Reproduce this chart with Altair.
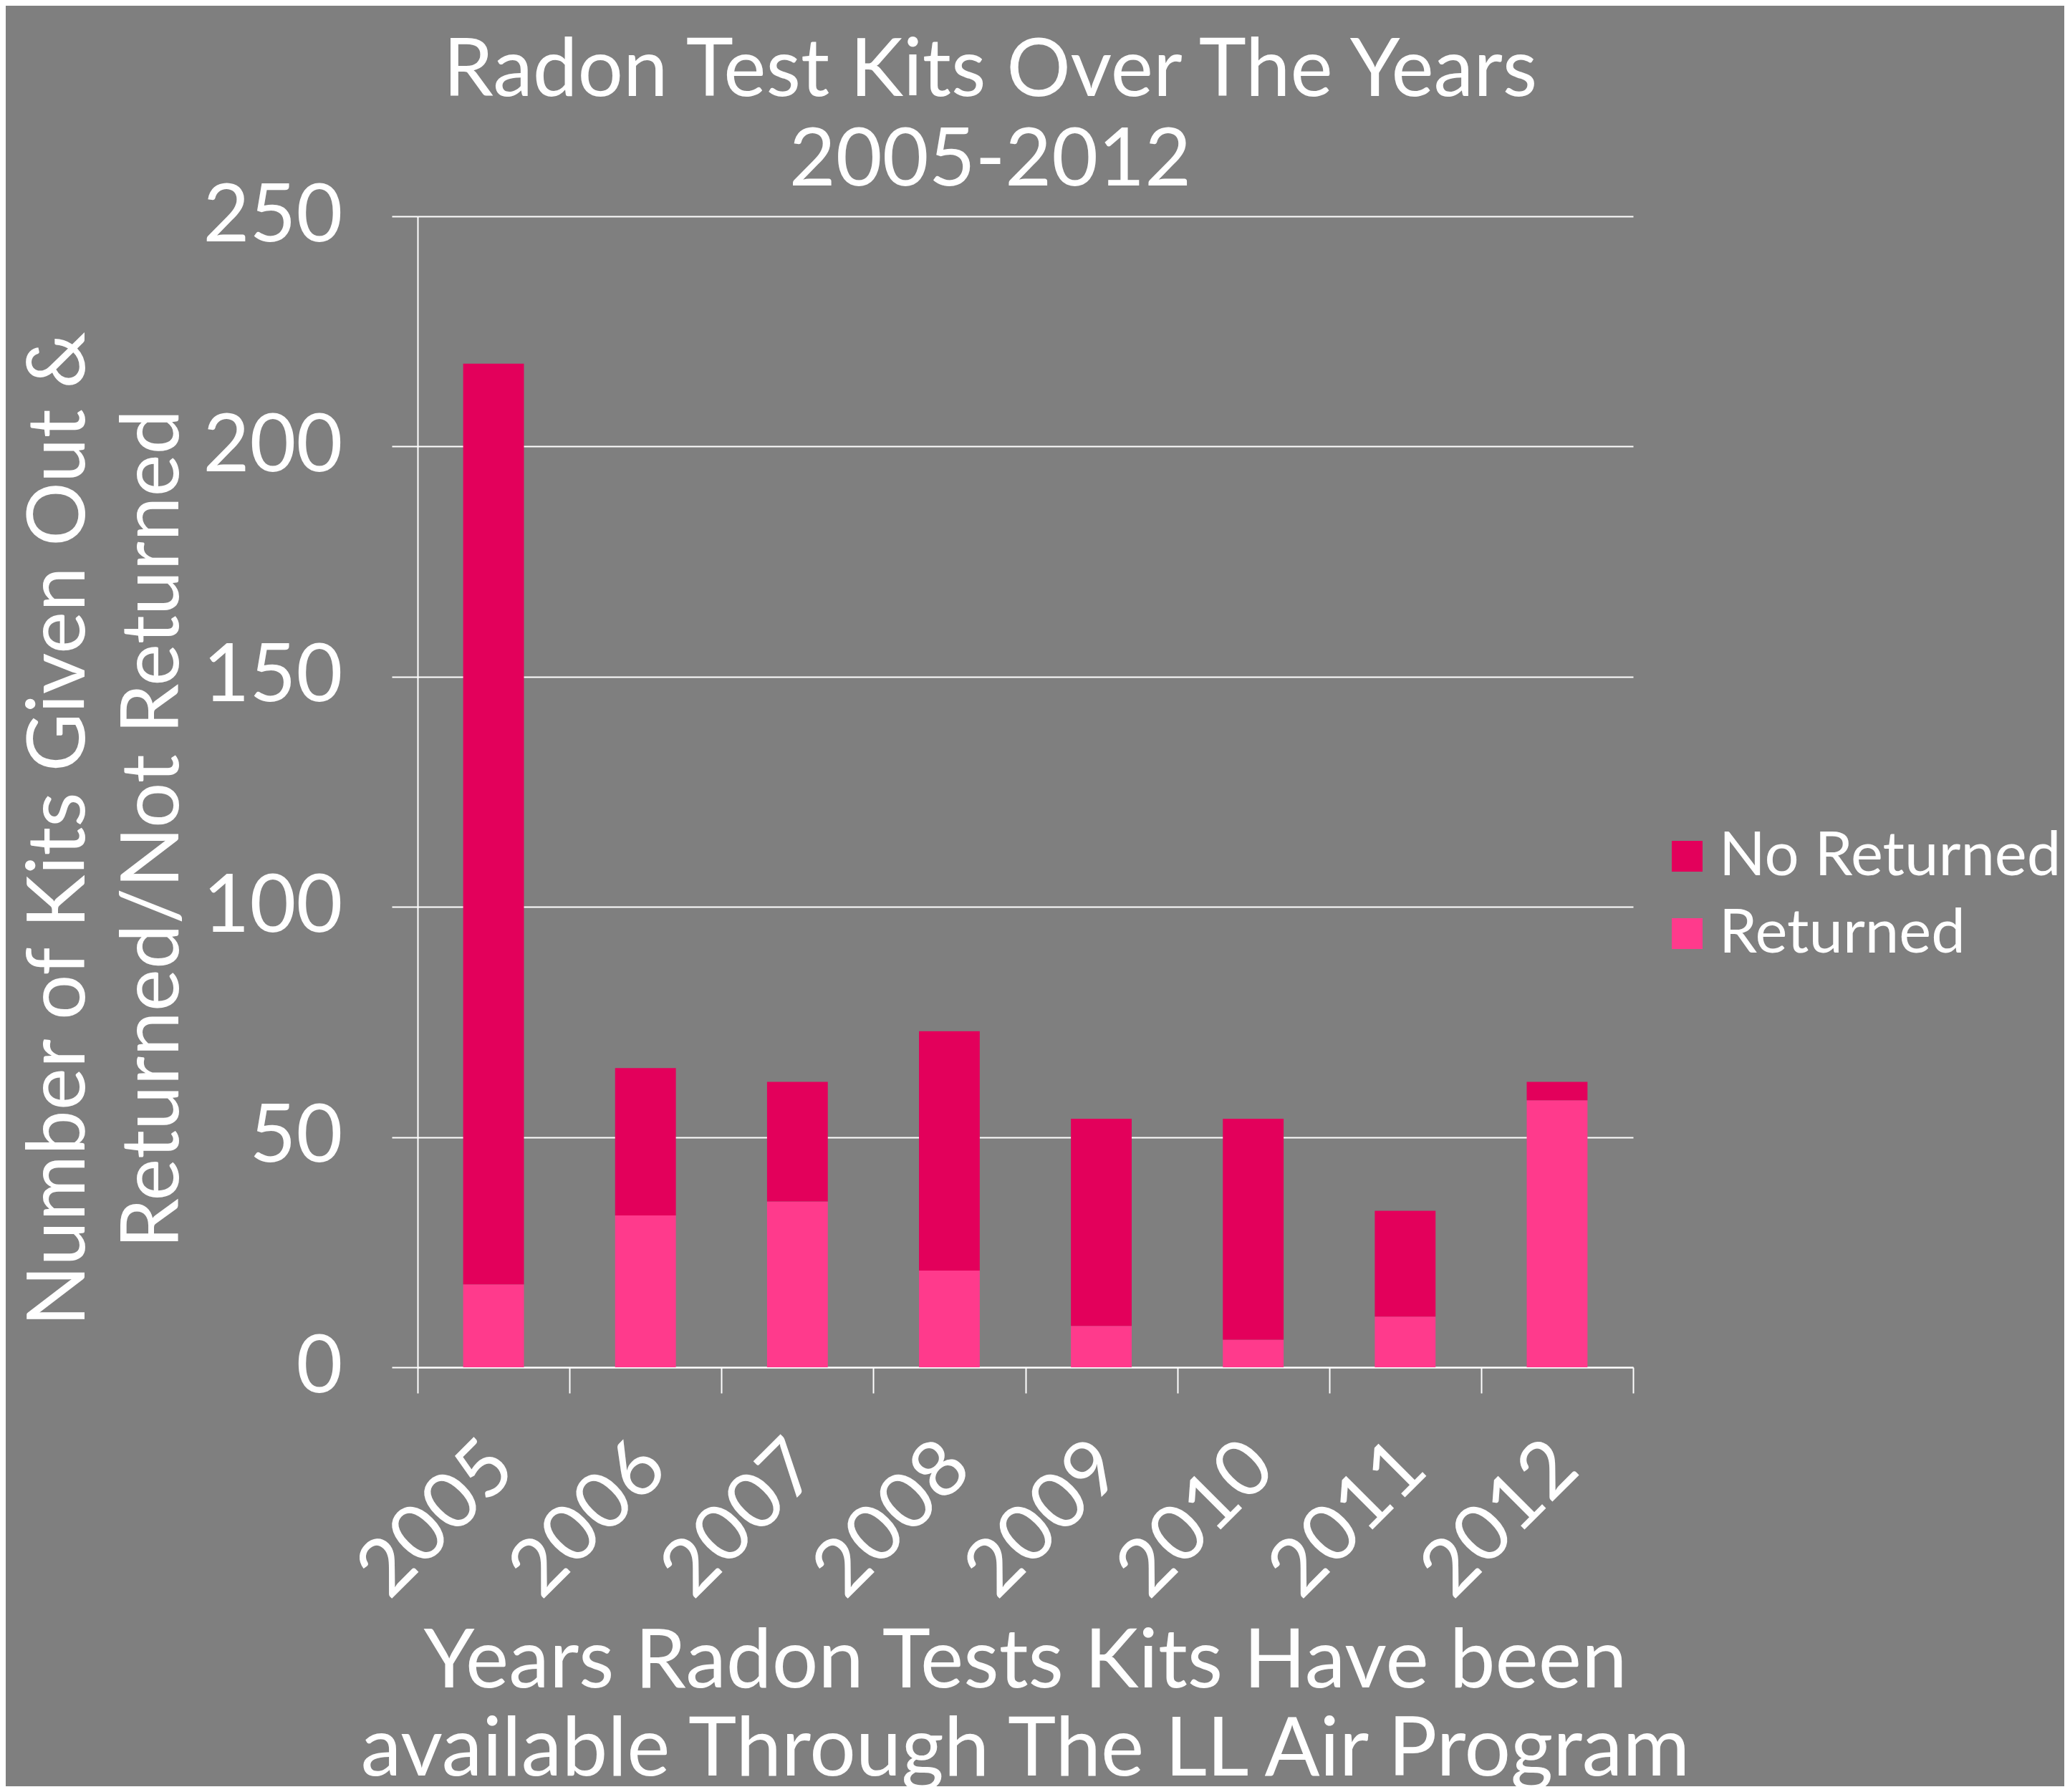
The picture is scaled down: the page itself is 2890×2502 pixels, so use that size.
import altair as alt
import pandas as pd

years = ["2005", "2006", "2007", "2008", "2009", "2010", "2011", "2012"]
returned = [18, 33, 36, 21, 9, 6, 11, 58]
not_returned = [200, 32, 26, 52, 45, 48, 23, 4]
series = ["No Returned", "Returned"]
colors = ["#E3005B", "#FF3A8C"]
y_ticks = [0, 50, 100, 150, 200, 250]

rows = []
for yr, r, n in zip(years, returned, not_returned):
    rows.append({"year": yr, "series": "Returned", "count": r, "ord": 0})
    rows.append({"year": yr, "series": "No Returned", "count": n, "ord": 1})
df = pd.DataFrame(rows)

FONT = "Lato"
WHITE = "#ffffff"

chart = alt.Chart(df).mark_bar(width=alt.RelativeBandSize(0.4)).encode(
    x=alt.X(
        "year:N",
        sort=years,
        scale=alt.Scale(paddingInner=0, paddingOuter=0),
        axis=alt.Axis(
            title=["Years Radon Tests Kits Have been", "available Through  The LL Air Program"],
            labelAngle=-45,
            labelFontSize=110,
            labelColor=WHITE,
            labelFont=FONT,
            labelPadding=48,
            labelOffset=-27,
            labelLimit=0,
            tickBand="extent",
            tickSize=36,
            tickColor=WHITE,
            tickWidth=2,
            domainColor=WHITE,
            domainWidth=2,
            titleFont=FONT,
            titleFontSize=114,
            titleFontWeight="normal",
            titleColor=WHITE,
            titleX=848,
            titleY=446,
            titleAlign="center",
            titleBaseline="alphabetic",
            titleLineHeight=123,
        ),
    ),
    y=alt.Y(
        "count:Q",
        stack="zero",
        scale=alt.Scale(domain=[0, 250], nice=False),
        axis=alt.Axis(
            title=["Number of Kits Given Out &", "Returned/Not Returned"],
            values=y_ticks,
            labelFontSize=112,
            labelColor=WHITE,
            labelFont=FONT,
            labelPadding=69,
            labelLimit=0,
            tickSize=36,
            tickColor=WHITE,
            tickWidth=2,
            domainColor=WHITE,
            domainWidth=2,
            grid=True,
            gridColor=WHITE,
            gridWidth=2,
            titleFont=FONT,
            titleFontSize=112,
            titleFontWeight="normal",
            titleColor=WHITE,
            titleAngle=270,
            titleX=-466,
            titleY=855,
            titleAlign="center",
            titleBaseline="alphabetic",
            titleLineHeight=131,
        ),
    ),
    color=alt.Color(
        "series:N",
        scale=alt.Scale(domain=series, range=colors),
        legend=alt.Legend(
            title=None,
            orient="none",
            legendX=1730,
            legendY=851,
            labelFont=FONT,
            labelFontSize=85,
            labelColor=WHITE,
            labelOffset=2,
            labelLimit=0,
            symbolType="square",
            symbolSize=1849,
            symbolStrokeWidth=0,
            rowPadding=22,
        ),
    ),
    order=alt.Order("ord:Q", sort="ascending"),
).properties(
    width=1697,
    height=1607,
    title=alt.TitleParams(
        text=["Radon Test Kits Over The Years", "2005-2012"],
        font=FONT,
        fontSize=112,
        fontWeight="normal",
        color=WHITE,
        anchor="middle",
        dx=-49,
        lineHeight=125,
        offset=-37,
    ),
    autosize=alt.AutoSizeParams(type="none"),
    padding={"left": 575, "top": 294, "right": 602, "bottom": 585},
    background="#7f7f7f",
).configure_view(stroke=None)

chart.save("out.html", embed_options={"renderer": "svg", "actions": False})
